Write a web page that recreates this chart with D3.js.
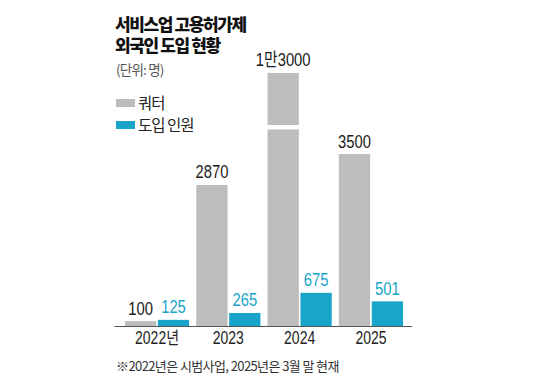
<!DOCTYPE html>
<html>
<head>
    <meta charset="utf-8">
    <title>서비스업 고용허가제 외국인 도입 현황</title>
    <script src="https://d3js.org/d3.v7.min.js"></script>
    <style>
        body {
            margin: 0;
            padding: 0;
            background-color: #ffffff;
        }
        text {
            font-family: "Liberation Sans", "Noto Sans CJK KR", sans-serif;
        }
        .kr {
            font-family: "Noto Sans CJK KR", sans-serif;
        }
        .title {
            font-weight: 900;
            font-size: 17px;
            letter-spacing: -1.4px;
            fill: #111;
        }
    </style>
</head>
<body>
    <div id="chart"></div>

    <script>
        // data
        var years = ["2022년", "2023", "2024", "2025"];
        var quota = [100, 2870, 13000, 3500];
        var quotaLabels = ["100", "2870", "1만3000", "3500"];
        var intake = [125, 265, 675, 501];
        var legendNames = ["쿼터", "도입 인원"];
        var titleLines = ["서비스업 고용허가제", "외국인 도입 현황"];

        var width = 544, height = 376;
        var grey = "#bdbdbd", teal = "#18a5c9";
        var narrow = 0.8; // the numbers in the picture use a condensed face

        var svg = d3.select("#chart")
            .append("svg")
            .attr("width", width)
            .attr("height", height);

        // scales
        var x = d3.scaleBand()
            .domain(years)
            .range([121.4, 406.6])
            .paddingInner(0.1)
            .paddingOuter(0.05);

        var xInner = d3.scaleBand()
            .domain(["quota", "intake"])
            .range([0, x.bandwidth()])
            .paddingInner(0.05);

        var y = d3.scaleLinear()
            .domain([0, 3500])
            .range([326, 154]);

        // the 1만3000 bar is broken, drawn only up to this value
        var capValue = 5150;
        var gapFrom = 4000, gapTo = 4090;

        // title (two lines in one text)
        svg.append("text").attr("class", "kr title")
            .attr("y", 31)
            .selectAll("tspan")
            .data(titleLines)
            .enter().append("tspan")
            .attr("x", 115)
            .attr("dy", function(d, i) { return i === 0 ? 0 : 21; })
            .text(function(d) { return d; });

        svg.append("text").attr("class", "kr")
            .attr("x", 116).attr("y", 75)
            .style("font-size", "13.5px")
            .style("letter-spacing", "-0.8px")
            .style("fill", "#555")
            .text("(단위: 명)");

        // legend
        var legend = svg.selectAll(".legend")
            .data(legendNames)
            .enter().append("g")
            .attr("class", "legend")
            .attr("transform", function(d, i) { return "translate(116," + (99 + i * 22) + ")"; });
        legend.append("rect")
            .attr("width", 19).attr("height", 8)
            .attr("fill", function(d, i) { return i === 0 ? grey : teal; });
        legend.append("text").attr("class", "kr")
            .attr("x", 22).attr("y", 9.5)
            .style("font-size", "15.5px")
            .style("letter-spacing", "-1px")
            .style("fill", "#222")
            .text(function(d) { return d; });

        // quota bars
        svg.selectAll(".quota")
            .data(quota)
            .enter().append("rect")
            .attr("class", "quota")
            .attr("x", function(d, i) { return x(years[i]) + xInner("quota"); })
            .attr("width", xInner.bandwidth())
            .attr("y", function(d) { return y(Math.min(d, capValue)); })
            .attr("height", function(d) { return y(0) - y(Math.min(d, capValue)); })
            .attr("fill", grey);

        // white break in the long bar
        quota.forEach(function(d, i) {
            if (d > capValue) {
                svg.append("rect")
                    .attr("x", x(years[i]) + xInner("quota") - 1)
                    .attr("width", xInner.bandwidth() + 2)
                    .attr("y", y(gapTo))
                    .attr("height", y(gapFrom) - y(gapTo))
                    .attr("fill", "#fff");
            }
        });

        // intake bars
        svg.selectAll(".intake")
            .data(intake)
            .enter().append("rect")
            .attr("class", "intake")
            .attr("x", function(d, i) { return x(years[i]) + xInner("intake"); })
            .attr("width", xInner.bandwidth())
            .attr("y", function(d) { return y(d); })
            .attr("height", function(d) { return y(0) - y(d); })
            .attr("fill", teal);

        // value labels
        svg.selectAll(".qlabel")
            .data(quota)
            .enter().append("text")
            .attr("class", "qlabel")
            .attr("transform", function(d, i) {
                var cx = x(years[i]) + xInner("quota") + xInner.bandwidth() / 2;
                return "translate(" + cx + "," + (y(Math.min(d, capValue)) - 6.5) + ") scale(" + narrow + ",1)";
            })
            .attr("text-anchor", "middle")
            .style("font-size", "18.5px")
            .style("fill", "#1a1a1a")
            .text(function(d, i) { return quotaLabels[i]; });

        svg.selectAll(".ilabel")
            .data(intake)
            .enter().append("text")
            .attr("class", "ilabel")
            .attr("transform", function(d, i) {
                var cx = x(years[i]) + xInner("intake") + xInner.bandwidth() / 2;
                return "translate(" + cx + "," + (y(d) - 6.5) + ") scale(" + narrow + ",1)";
            })
            .attr("text-anchor", "middle")
            .style("font-size", "18.5px")
            .style("fill", teal)
            .text(function(d) { return d; });

        // x axis
        var xAxis = svg.append("g")
            .attr("transform", "translate(0," + y(0) + ")")
            .call(d3.axisBottom(x).tickSize(0).tickPadding(6));
        xAxis.select(".domain")
            .attr("d", "M114.5,0.5H412")
            .attr("stroke", "#555");
        xAxis.selectAll(".tick text")
            .attr("transform", "scale(" + narrow + ",1)")
            .style("font-family", "'Liberation Sans', 'Noto Sans CJK KR', sans-serif")
            .style("font-size", "17.5px")
            .style("fill", "#222");

        // footnote
        svg.append("text").attr("class", "kr")
            .attr("x", 116).attr("y", 371)
            .style("font-size", "13px")
            .style("letter-spacing", "-0.6px")
            .style("fill", "#333")
            .text("※2022년은 시범사업, 2025년은 3월 말 현재");
    </script>
</body>
</html>
